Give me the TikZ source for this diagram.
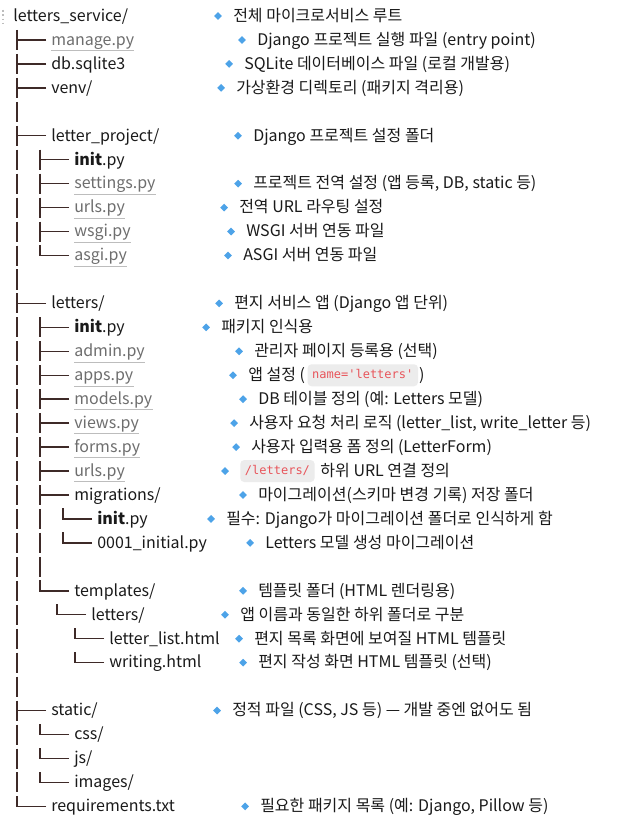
\documentclass[tikz,border=0pt]{standalone}
\usepackage{fontspec}
\setmainfont{Noto Sans CJK KR}
\setmonofont{DejaVu Sans Mono}
\usetikzlibrary{positioning,shapes.geometric}

\definecolor{ink}{HTML}{1A1A1A}
\definecolor{linkgray}{HTML}{6E6E6E}
\definecolor{lineunder}{HTML}{BDBDBD}
\definecolor{treeline}{HTML}{3E2A28}
\definecolor{bullet}{HTML}{4DA3E8}
\definecolor{codebg}{HTML}{ECECEC}
\definecolor{codered}{HTML}{E8545A}

% tree glyphs, drawn from a named entry
\newcommand{\stub}[1]{\draw[branch] (#1.west) ++(-5,0) -- ++(-29,0);}
\newcommand{\elbow}[1]{\draw[branch] (#1.west) ++(-5,0) -- ++(-29,0) -- ++(0,-10.5);}

\begin{document}
\begin{tikzpicture}[x=0.75pt,y=-0.75pt,
    font=\fontsize{12}{14}\selectfont,
    entry/.style={anchor=west, inner sep=0pt, text height=10.5pt, text depth=2.5pt, text=ink},
    link/.style={entry, text=linkgray,
      append after command={([yshift=-1.3pt]\tikzlastnode.south west) edge[uline] ([yshift=-1.3pt]\tikzlastnode.south east)}},
    uline/.style={draw=lineunder, line width=0.6pt},
    note/.style={entry},
    bul/.style={diamond, fill=bullet, inner sep=0pt, minimum width=6pt, minimum height=6pt},
    code/.style={anchor=west, fill=codebg, text=codered, rounded corners=3pt,
      font=\ttfamily\fontsize{9}{10}\selectfont, inner xsep=3.5pt, inner ysep=0pt,
      minimum height=16.5pt, text height=7pt, text depth=2pt},
    branch/.style={draw=treeline, line width=1.1pt},
    rail/.style={branch, dash pattern=on 15pt off 2.9625pt}]
    \useasboundingbox (0,0) rectangle (622,830);
    \fill[white] (0,0) rectangle (622,830);
    \draw[lineunder, line width=1.2pt, dotted] (3,10) -- (3,23);

    % tree entries
    \node[entry] (root) at (13,16) {letters\_service/};
    \node[link] (manage) at (51,40) {manage.py};
    \node[entry] (db) at (51,63.9) {db.sqlite3};
    \node[entry] (venv) at (51,87.85) {venv/};
    \node[entry] (proj) at (51,135.75) {letter\_project/};
    \node[entry] (init_a) at (74,159.7) {\textbf{init}.py};
    \node[link] (settings) at (74,183.65) {settings.py};
    \node[link] (urls_a) at (74,207.6) {urls.py};
    \node[link] (wsgi) at (74,231.55) {wsgi.py};
    \node[link] (asgi) at (74,255.5) {asgi.py};
    \node[entry] (app) at (51,303.4) {letters/};
    \node[entry] (init_b) at (74,327.35) {\textbf{init}.py};
    \node[link] (admin) at (74,351.3) {admin.py};
    \node[link] (apps) at (74,375.25) {apps.py};
    \node[link] (models) at (74,399.2) {models.py};
    \node[link] (views) at (74,423.15) {views.py};
    \node[link] (forms) at (74,447.1) {forms.py};
    \node[link] (urls_b) at (74,471.05) {urls.py};
    \node[entry] (migrations) at (74,495) {migrations/};
    \node[entry] (mig_init) at (97,518.95) {\textbf{init}.py};
    \node[entry] (mig_0001) at (97,542.9) {0001\_initial.py};
    \node[entry] (templates) at (74,590.8) {templates/};
    \node[entry] (tpl_letters) at (91,614.75) {letters/};
    \node[entry] (letter_list) at (109,638.7) {letter\_list.html};
    \node[entry] (writing) at (109,662.65) {writing.html};
    \node[entry] (static) at (51,710.55) {static/};
    \node[entry] (css) at (74,734.5) {css/};
    \node[entry] (js) at (74,758.45) {js/};
    \node[entry] (images) at (74,782.4) {images/};
    \node[entry] (reqs) at (51,806.35) {requirements.txt};

    % rails and branches
    \draw[rail] ([shift={(-34,-10)}]manage.west) -- ([shift={(-34,-13.95)}]reqs.west);
    \draw[rail] ([shift={(-34,-10)}]init_a.west) -- ([shift={(-34,-13.95)}]asgi.west);
    \draw[rail] ([shift={(-34,-10)}]init_b.west) -- ([shift={(-34,-13.95)}]templates.west);
    \stub{manage} \stub{db} \stub{venv} \stub{proj} \stub{app} \stub{static}
    \stub{init_a} \stub{settings} \stub{urls_a} \stub{wsgi}
    \stub{init_b} \stub{admin} \stub{apps} \stub{models} \stub{views}
    \stub{forms} \stub{urls_b} \stub{migrations}
    \elbow{asgi} \elbow{templates} \elbow{reqs}
    \elbow{mig_init} \elbow{mig_0001} \elbow{tpl_letters}
    \elbow{letter_list} \elbow{writing}
    \elbow{css} \elbow{js} \elbow{images}

    % comments
    \node[note] (n_root) at (233,16) {전체 마이크로서비스 루트};
    \node[bul, left=8pt of n_root] (b_root) {};
    \node[note] (n_manage) at (257,40) {Django 프로젝트 실행 파일 (entry point)};
    \node[bul, left=8pt of n_manage] (b_manage) {};
    \node[note] (n_db) at (244,63.9) {SQLite 데이터베이스 파일 (로컬 개발용)};
    \node[bul, left=8pt of n_db] (b_db) {};
    \node[note] (n_venv) at (236,87.85) {가상환경 디렉토리 (패키지 격리용)};
    \node[bul, left=8pt of n_venv] (b_venv) {};
    \node[note] (n_proj) at (253,135.75) {Django 프로젝트 설정 폴더};
    \node[bul, left=8pt of n_proj] (b_proj) {};
    \node[note] (n_settings) at (253,183.65) {프로젝트 전역 설정 (앱 등록, DB, static 등)};
    \node[bul, left=8pt of n_settings] (b_settings) {};
    \node[note] (n_urls_a) at (239,207.6) {전역 URL 라우팅 설정};
    \node[bul, left=8pt of n_urls_a] (b_urls_a) {};
    \node[note] (n_wsgi) at (246,231.55) {WSGI 서버 연동 파일};
    \node[bul, left=8pt of n_wsgi] (b_wsgi) {};
    \node[note] (n_asgi) at (243,255.5) {ASGI 서버 연동 파일};
    \node[bul, left=8pt of n_asgi] (b_asgi) {};
    \node[note] (n_app) at (234,303.4) {편지 서비스 앱 (Django 앱 단위)};
    \node[bul, left=8pt of n_app] (b_app) {};
    \node[note] (n_init_b) at (221,327.35) {패키지 인식용};
    \node[bul, left=8pt of n_init_b] (b_init_b) {};
    \node[note] (n_admin) at (254,351.3) {관리자 페이지 등록용 (선택)};
    \node[bul, left=8pt of n_admin] (b_admin) {};
    \node[note] (n_apps) at (248,375.25) {앱 설정 (};
    \node[bul, left=8pt of n_apps] (b_apps) {};
    \node[code, right=1.5pt of n_apps] (k_apps) {name='letters'};
    \node[note, right=0.5pt of k_apps] (n_apps2) {)};
    \node[note] (n_models) at (258,399.2) {DB 테이블 정의 (예: Letters 모델)};
    \node[bul, left=8pt of n_models] (b_models) {};
    \node[note] (n_views) at (249,423.15) {사용자 요청 처리 로직 (letter\_list, write\_letter 등)};
    \node[bul, left=8pt of n_views] (b_views) {};
    \node[note] (n_forms) at (251,447.1) {사용자 입력용 폼 정의 (LetterForm)};
    \node[bul, left=8pt of n_forms] (b_forms) {};
    \node[code] (k_urls_b) at (240,471.05) {/letters/};
    \node[bul, left=8pt of k_urls_b] (b_urls_b) {};
    \node[note, right=4pt of k_urls_b] (n_urls_b) {하위 URL 연결 정의};
    \node[note] (n_migrations) at (258,495) {마이그레이션(스키마 변경 기록) 저장 폴더};
    \node[bul, left=8pt of n_migrations] (b_migrations) {};
    \node[note] (n_mig_init) at (226,518.95) {필수: Django가 마이그레이션 폴더로 인식하게 함};
    \node[bul, left=8pt of n_mig_init] (b_mig_init) {};
    \node[note] (n_mig_0001) at (265,542.9) {Letters 모델 생성 마이그레이션};
    \node[bul, left=8pt of n_mig_0001] (b_mig_0001) {};
    \node[note] (n_templates) at (258,590.8) {템플릿 폴더 (HTML 렌더링용)};
    \node[bul, left=8pt of n_templates] (b_templates) {};
    \node[note] (n_tpl_letters) at (240,614.75) {앱 이름과 동일한 하위 폴더로 구분};
    \node[bul, left=8pt of n_tpl_letters] (b_tpl_letters) {};
    \node[note] (n_letter_list) at (254,638.7) {편지 목록 화면에 보여질 HTML 템플릿};
    \node[bul, left=8pt of n_letter_list] (b_letter_list) {};
    \node[note] (n_writing) at (258,662.65) {편지 작성 화면 HTML 템플릿 (선택)};
    \node[bul, left=8pt of n_writing] (b_writing) {};
    \node[note] (n_static) at (232,710.55) {정적 파일 (CSS, JS 등) — 개발 중엔 없어도 됨};
    \node[bul, left=8pt of n_static] (b_static) {};
    \node[note] (n_reqs) at (260,806.35) {필요한 패키지 목록 (예: Django, Pillow 등)};
    \node[bul, left=8pt of n_reqs] (b_reqs) {};
\end{tikzpicture}
\end{document}
